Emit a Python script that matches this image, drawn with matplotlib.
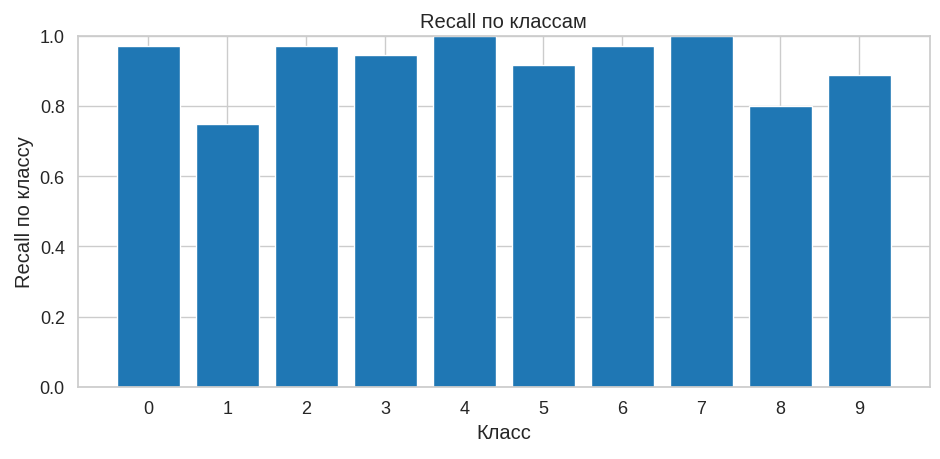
import matplotlib
matplotlib.use("Agg")
import matplotlib.pyplot as plt
import seaborn as sns

classes = [0, 1, 2, 3, 4, 5, 6, 7, 8, 9]
recall = [0.972, 0.75, 0.972, 0.944, 1.0, 0.917, 0.972, 1.0, 0.8, 0.889]

sns.set_theme(style="whitegrid")
plt.rcParams['font.family'] = ['Liberation Sans', 'DejaVu Sans']

fig, ax = plt.subplots(figsize=(9.4, 4.6), dpi=100)
fig.subplots_adjust(left=0.083, right=0.989, top=0.92, bottom=0.157)
ax.bar(classes, recall, color='#1f77b4')
ax.set_xticks(classes)
ax.set_ylim(0, 1.0)
ax.tick_params(labelsize=13)
ax.set_xlabel("Класс", fontsize=14.5)
ax.set_ylabel("Recall по классу", fontsize=14.5)
ax.set_title("Recall по классам", fontsize=14.5)
fig.savefig("out.png")
